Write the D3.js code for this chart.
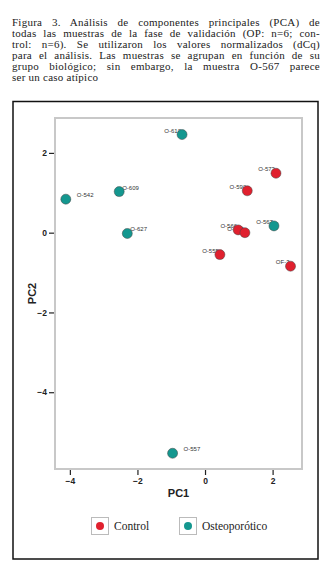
<!DOCTYPE html>
<html>
<head>
<meta charset="utf-8">
<script src="https://cdn.jsdelivr.net/npm/d3@7"></script>
<style>
  body { margin: 0; background: #fff; width: 332px; height: 581px; overflow: hidden; }
  #caption { position: absolute; left: 12px; top: 17px; width: 308px;
             font-family: "Liberation Serif", serif; font-size: 11px; line-height: 11px;
             letter-spacing: 0.25px; color: #222; }
  #caption div { text-align: justify; text-align-last: justify; white-space: nowrap; }
  #caption div.last { text-align-last: left; }
  #chart { position: absolute; left: 0; top: 0; }
</style>
</head>
<body>
<div id="caption"></div>
<svg id="chart" width="332" height="581"></svg>
<script>
// caption lines as printed
const captionLines = [
    "Figura 3. Análisis de componentes principales (PCA) de",
    "todas las muestras de la fase de validación (OP: n=6; con-",
    "trol: n=6). Se utilizaron los valores normalizados (dCq)",
    "para el análisis. Las muestras se agrupan en función de su",
    "grupo biológico; sin embargo, la muestra O-567 parece",
    "ser un caso atípico"
];

// samples
const names = ["O-610", "O-542", "O-609", "O-627", "O-567", "O-557",
               "O-573", "O-590", "O-566", "O-568", "O-555", "OF-3"];
const groups = ["Osteoporótico", "Osteoporótico", "Osteoporótico", "Osteoporótico", "Osteoporótico", "Osteoporótico",
                "Control", "Control", "Control", "Control", "Control", "Control"];
const pc1 = [-0.68, -4.12, -2.54, -2.30, 2.04, -0.96, 2.10, 1.25, 0.98, 1.18, 0.44, 2.53];
const pc2 = [2.46, 0.84, 1.03, -0.02, 0.17, -5.53, 1.49, 1.05, 0.07, 0.00, -0.55, -0.84];
// which side the label sits on
const labelSide = ["left", "right2", "right", "right", "left", "right2",
                   "left", "left", "left", "left", "left", "left"];

const xTicks = [-4, -2, 0, 2];
const yTicks = [2, 0, -2, -4];
const legendItems = ["Control", "Osteoporótico"];
const colors = { "Control": "#e0202e", "Osteoporótico": "#14978f" };

d3.select("#caption").selectAll("div")
    .data(captionLines)
    .enter()
    .append("div")
    .attr("class", (d, i) => i === captionLines.length - 1 ? "last" : null)
    .text(d => d);

const svg = d3.select("#chart");

// outer frame
svg.append("rect")
    .attr("x", 13).attr("y", 101.5)
    .attr("width", 305).attr("height", 457.5)
    .attr("fill", "none").attr("stroke", "#111").attr("stroke-width", 1.5);

const plotL = 55, plotR = 302, plotT = 118, plotB = 469;

const x = d3.scaleLinear().domain([-4.44, 2.87]).range([plotL, plotR]);
const y = d3.scaleLinear().domain([-5.925, 2.875]).range([plotB, plotT]);

// plot box
svg.append("rect")
    .attr("x", plotL).attr("y", plotT)
    .attr("width", plotR - plotL).attr("height", plotB - plotT)
    .attr("fill", "none").attr("stroke", "#c8c8c8").attr("stroke-width", 2);

const xAxis = svg.append("g")
    .attr("transform", `translate(0,${plotB + 1})`)
    .call(d3.axisBottom(x).tickValues(xTicks).tickSize(5).tickPadding(3));
const yAxis = svg.append("g")
    .attr("transform", `translate(${plotL - 1},0)`)
    .call(d3.axisLeft(y).tickValues(yTicks).tickSize(5).tickPadding(2));

[xAxis, yAxis].forEach(ax => {
    ax.select(".domain").remove();
    ax.selectAll("line").attr("stroke", "#222").attr("stroke-width", 1.2);
    ax.selectAll("text")
        .attr("fill", "#222")
        .style("font-family", "Liberation Sans, Arial, sans-serif")
        .style("font-size", "8.5px")
        .style("font-weight", "bold");
});

svg.append("text")
    .attr("x", (plotL + plotR) / 2).attr("y", 497)
    .attr("text-anchor", "middle")
    .style("font-family", "Liberation Sans, Arial, sans-serif")
    .style("font-size", "11px").style("font-weight", "bold")
    .attr("fill", "#222")
    .text("PC1");

svg.append("text")
    .attr("transform", `translate(36,${(plotT + plotB) / 2}) rotate(-90)`)
    .attr("text-anchor", "middle")
    .style("font-family", "Liberation Sans, Arial, sans-serif")
    .style("font-size", "11px").style("font-weight", "bold")
    .attr("fill", "#222")
    .text("PC2");

const samples = names.map((n, i) => ({ name: n, group: groups[i], pc1: pc1[i], pc2: pc2[i], side: labelSide[i] }));

svg.selectAll("text.lbl")
    .data(samples)
    .enter()
    .append("text")
    .attr("class", "lbl")
    .attr("x", d => d.side === "left" ? x(d.pc1) - 1 : x(d.pc1) + (d.side === "right2" ? 11 : 3))
    .attr("y", d => y(d.pc2) - 2)
    .attr("text-anchor", d => d.side === "left" ? "end" : "start")
    .style("font-family", "Liberation Sans, Arial, sans-serif")
    .style("font-size", "6px")
    .attr("fill", "#333")
    .text(d => d.name);

svg.selectAll("circle.pt")
    .data(samples)
    .enter()
    .append("circle")
    .attr("class", "pt")
    .attr("cx", d => x(d.pc1))
    .attr("cy", d => y(d.pc2))
    .attr("r", 5)
    .attr("fill", d => colors[d.group])
    .attr("stroke", "#444")
    .attr("stroke-width", 0.5);

// legend
const legendX = [100, 188];
const lg = svg.selectAll("g.lg")
    .data(legendItems)
    .enter()
    .append("g")
    .attr("class", "lg")
    .attr("transform", (d, i) => `translate(${legendX[i]},526)`);

lg.append("rect")
    .attr("x", -8.5).attr("y", -8.5).attr("width", 17).attr("height", 17)
    .attr("fill", "#fff").attr("stroke", "#bbb").attr("stroke-width", 1);
lg.append("circle")
    .attr("r", 4)
    .attr("fill", d => colors[d]);
lg.append("text")
    .attr("x", 14).attr("y", 4)
    .style("font-family", "Liberation Serif, serif")
    .style("font-size", "11.5px")
    .attr("fill", "#222")
    .text(d => d);
</script>
</body>
</html>
